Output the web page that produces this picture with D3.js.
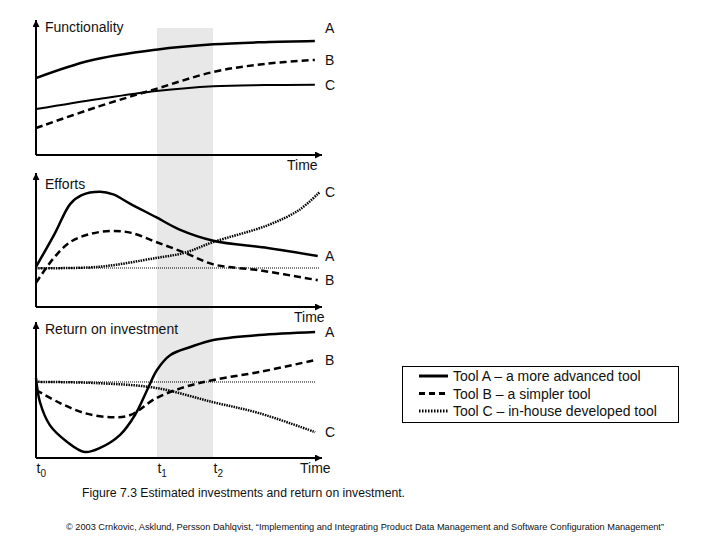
<!DOCTYPE html>
<html>
<head>
<meta charset="utf-8">
<script src="https://cdn.jsdelivr.net/npm/d3@7"></script>
<style>
  body { margin: 0; background: #fff; }
  text { font-family: "Liberation Sans", Arial, sans-serif; fill: #111; }
</style>
</head>
<body>
<div id="chart"></div>
<script>
// --- data (time on 0..100, value on 0..100 per panel) ---
const tools = ["A", "B", "C"];
const toolNames = ["Tool A – a more advanced tool", "Tool B – a simpler tool", "Tool C – in-house developed tool"];
const panelTitles = ["Functionality", "Efforts", "Return on investment"];
const timeTicks = [0, 42.3, 61.9];
const timeTickNames = ["0", "1", "2"];

const funcA = [[0, 57], [19, 70], [42, 78], [62, 82], [80, 83.6], [97.5, 84.4]];
const funcB = [[0, 20], [22, 36], [42, 49], [62, 61.5], [80, 67.5], [97.5, 70.4]];
const funcC = [[0, 34], [22, 41.5], [42, 47.4], [62, 51], [80, 51.8], [97.5, 52]];

const effortA = [[0, 30], [6.6, 55], [12, 77], [16, 83.5], [22.4, 86], [27, 84], [33, 77], [42, 67], [50, 58], [62, 49.5], [81, 44], [98.5, 38]];
const effortB = [[0, 18], [6, 36], [12, 48.5], [19, 54.5], [26, 56.7], [33, 55.5], [42, 48.5], [52, 40.5], [62, 31.8], [78, 27.4], [98.5, 20]];
const effortC = [[0, 29], [22, 30], [42, 36.6], [52, 40.5], [62, 48.5], [81, 61], [92, 72.4], [99.3, 86]];
const effortBase = 29.1;

const roiA = [[0, 59], [1.4, 41], [4.9, 24], [10.8, 12], [17, 4.4], [22.4, 7.4], [29.4, 17], [34.6, 31.6], [39.2, 51.5], [42.3, 64.7], [47, 75.7], [54, 81.6], [62, 86.8], [78, 90.4], [97.6, 92.6]];
const roiB = [[0, 50], [8.4, 40.4], [17, 33], [26, 30], [33, 31.6], [42, 44], [52, 52.2], [62, 57.4], [78, 63.2], [97.6, 72]];
const roiC = [[0, 56], [22, 55], [42, 51.5], [62, 41], [78, 33], [97.6, 19]];
const roiBase = 55.9;

// --- layout ---
const width = 720, height = 540;
const x = d3.scaleLinear().domain([0, 100]).range([36, 322]);

const panels = [
  { title: panelTitles[0], range: [155, 20], titleY: 32, timeX: 287, series: [funcA, funcB, funcC], base: null, solidC: true, labelDy: [-13, 0, 0], baseEnd: 0 },
  { title: panelTitles[1], range: [307, 173], titleY: 189, timeX: 294, series: [effortA, effortB, effortC], base: effortBase, solidC: false, labelDy: [0, 0, 0], baseEnd: 99.3 },
  { title: panelTitles[2], range: [458, 322], titleY: 334, timeX: 300, series: [roiA, roiB, roiC], base: roiBase, solidC: false, labelDy: [0, 0, 0], baseEnd: 97.6 }
];

const styles = {
  A: { width: 2.5, dash: null },
  B: { width: 2.5, dash: "7,4" },
  C: { width: 2.5, dash: "1.5,1" }
};

const svg = d3.select("#chart").append("svg")
  .attr("width", width)
  .attr("height", height);

// arrow head for axes
svg.append("defs").append("marker")
  .attr("id", "arrow")
  .attr("viewBox", "0 0 8 8")
  .attr("refX", 8).attr("refY", 4)
  .attr("markerWidth", 8).attr("markerHeight", 7)
  .attr("markerUnits", "userSpaceOnUse")
  .attr("orient", "auto")
  .append("path")
  .attr("d", "M0,0L8,4L0,8Z")
  .attr("fill", "#000");

// grey band between t1 and t2
svg.append("rect")
  .attr("x", x(timeTicks[1]))
  .attr("y", 28)
  .attr("width", x(timeTicks[2]) - x(timeTicks[1]))
  .attr("height", panels[2].range[0] - 28)
  .attr("fill", "#e8e8e8");

const line = d3.line()
  .x(d => x(d[0]))
  .y(d => d[1])
  .curve(d3.curveCatmullRom.alpha(0.5));

panels.forEach((p, pi) => {
  const y = d3.scaleLinear().domain([0, 100]).range(p.range);
  const g = svg.append("g");

  // thin dotted reference level
  if (p.base !== null) {
    g.append("line")
      .attr("x1", x(0)).attr("x2", x(p.baseEnd))
      .attr("y1", y(p.base)).attr("y2", y(p.base))
      .attr("stroke", "#000")
      .attr("stroke-width", 1)
      .attr("stroke-dasharray", "1,1");
  }

  // curves
  p.series.forEach((s, si) => {
    const st = styles[tools[si]];
    const solid = tools[si] === "C" && p.solidC;
    g.append("path")
      .datum(s.map(d => [d[0], y(d[1])]))
      .attr("fill", "none")
      .attr("stroke", "#000")
      .attr("stroke-width", solid ? 2 : st.width)
      .attr("stroke-dasharray", solid ? null : st.dash)
      .attr("d", line);

    const last = s[s.length - 1];
    g.append("text")
      .attr("x", 325)
      .attr("y", y(last[1]) + p.labelDy[si])
      .attr("dy", "0.36em")
      .attr("font-size", 14)
      .text(tools[si]);
  });

  // axes with arrows
  g.append("line")
    .attr("x1", x(0)).attr("x2", x(0))
    .attr("y1", y(0)).attr("y2", y(100))
    .attr("stroke", "#000").attr("stroke-width", 2)
    .attr("marker-end", "url(#arrow)");
  g.append("line")
    .attr("x1", x(0)).attr("x2", x.range()[1])
    .attr("y1", y(0)).attr("y2", y(0))
    .attr("stroke", "#000").attr("stroke-width", 2)
    .attr("marker-end", "url(#arrow)");

  g.append("text")
    .attr("x", 45).attr("y", p.titleY)
    .attr("font-size", 14)
    .text(p.title);

  g.append("text")
    .attr("x", p.timeX).attr("y", y(0) + 15)
    .attr("font-size", 14)
    .text("Time");

  // t0, t1, t2 under the last panel
  if (pi === 2) {
    const ax = g.append("g")
      .attr("transform", "translate(0," + y(0) + ")")
      .call(d3.axisBottom(x).tickValues(timeTicks).tickSize(0).tickFormat(""));
    ax.select(".domain").remove();
    ax.selectAll(".tick text")
      .attr("y", 15)
      .attr("dy", null)
      .attr("text-anchor", "start")
      .attr("font-size", 14)
      .attr("font-family", null)
      .attr("fill", "#111")
      .each(function(d, i) {
        const t = d3.select(this);
        t.text("t");
        t.append("tspan")
          .attr("dy", 4)
          .attr("font-size", 10)
          .text(timeTickNames[i]);
      });
  }
});

// legend
const legend = svg.append("g");
legend.append("rect")
  .attr("x", 402.5).attr("y", 366.5)
  .attr("width", 276).attr("height", 56)
  .attr("fill", "none")
  .attr("stroke", "#000")
  .attr("stroke-width", 1);

const legendY = d3.scalePoint().domain(tools).range([376, 411]);
tools.forEach((k, i) => {
  legend.append("line")
    .attr("x1", 419).attr("x2", 448)
    .attr("y1", legendY(k)).attr("y2", legendY(k))
    .attr("stroke", "#000")
    .attr("stroke-width", 3)
    .attr("stroke-dasharray", k === "B" ? "6,4" : (k === "C" ? "1.5,1.5" : null));
  legend.append("text")
    .attr("x", 453).attr("y", legendY(k) + 5)
    .attr("font-size", 14)
    .text(toolNames[i]);
});

// caption and credit
svg.append("text")
  .attr("x", 82).attr("y", 497)
  .attr("font-size", 12)
  .attr("textLength", 323)
  .attr("lengthAdjust", "spacingAndGlyphs")
  .text("Figure 7.3 Estimated investments and return on investment.");

svg.append("text")
  .attr("x", 66).attr("y", 530)
  .attr("font-size", 9)
  .attr("textLength", 598)
  .attr("lengthAdjust", "spacingAndGlyphs")
  .text("© 2003 Crnkovic, Asklund, Persson Dahlqvist, “Implementing and Integrating Product Data Management and Software Configuration Management”");
</script>
</body>
</html>
